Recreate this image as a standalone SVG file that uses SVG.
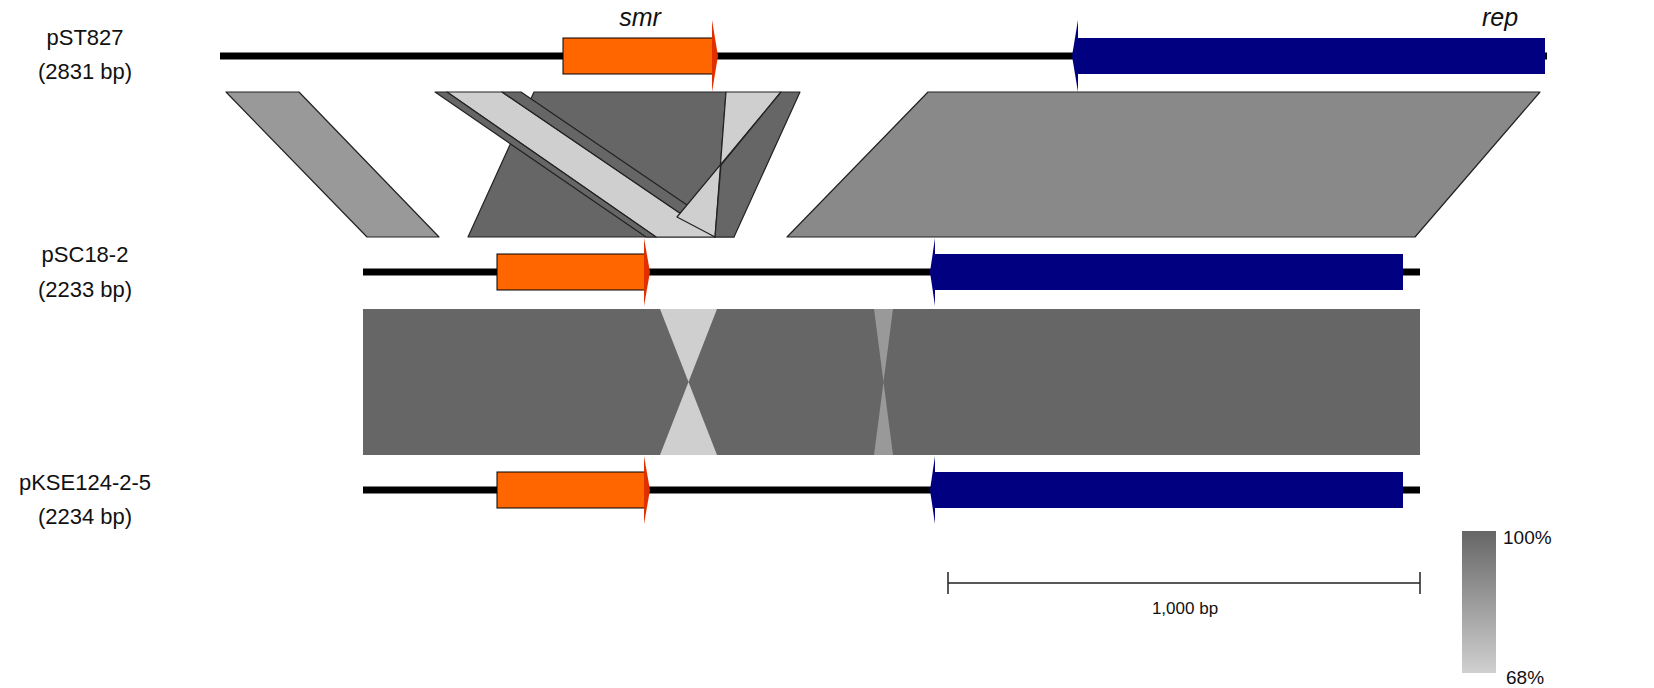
<svg xmlns="http://www.w3.org/2000/svg" width="1654" height="688" viewBox="0 0 1654 688">
<style>
text{font-family:"Liberation Sans",Arial,sans-serif;fill:#111}
.lab{font-size:22px;text-anchor:middle}
.gl{font-size:25px;font-style:italic;text-anchor:middle}
.bb{stroke:#000;stroke-width:7}
.b{stroke:#222;stroke-width:1.2;stroke-linejoin:round}
.dk{fill:#666}.lt{fill:#cfcfcf}.md{fill:#999}.mg{fill:#898989}
.smr{fill:#ff6600}.rep{fill:#000080}
</style>
<defs><linearGradient id="g" x1="0" y1="0" x2="0" y2="1"><stop offset="0" stop-color="#666"/><stop offset="1" stop-color="#d0d0d0"/></linearGradient></defs>
<rect width="1654" height="688" fill="#fff"/>
<g id="connectors">
<polygon class="md b" points="226,92 299,92 439,237 367,237"/>
<polygon class="dk b" points="534,92 726,92 715,237 468,237"/>
<polygon class="lt b" points="447,92 502,92 715,237 656,237"/>
<polygon class="dk b" points="435,92 447,92 656,237 646,237"/>
<polygon class="dk b" points="502,92 521,92 734,237 715,237"/>
<polygon class="lt b" points="726,92 781,92 677,217 715,237"/>
<polygon class="dk b" points="781,92 800,92 734,237 715,237 721,165"/>
<polygon class="mg b" points="928,92 1540,92 1415,237 787,237"/>
<rect class="dk" x="363" y="309" width="1057" height="146"/>
<polygon class="lt" points="660,309 717,309 660,455 717,455"/>
<polygon class="md" points="874,309 893,309 874,455 893,455"/>
</g>
<g id="pST827">
<line class="bb" x1="220" y1="56" x2="1547" y2="56"/>
<rect class="smr" x="563" y="38" width="150" height="36" stroke="#000" stroke-width="1"/>
<polygon fill="#e03000" points="712,20 718,56 712,92"/>
<rect class="rep" x="1078" y="38" width="467" height="36"/>
<polygon fill="#000080" points="1078,20 1072,56 1078,92"/>
<text class="lab" x="85" y="45">pST827</text>
<text class="lab" x="85" y="79">(2831 bp)</text>
<text class="gl" x="640" y="26">smr</text>
<text class="gl" x="1500" y="26">rep</text>
</g>
<g id="pSC18-2">
<line class="bb" x1="363" y1="272" x2="1420" y2="272"/>
<rect class="smr" x="497" y="254" width="148" height="36" stroke="#000" stroke-width="1"/>
<polygon fill="#e03000" points="644,238 650,272 644,306"/>
<rect class="rep" x="935" y="254" width="468" height="36"/>
<polygon fill="#000080" points="935,238 930,272 935,306"/>
<text class="lab" x="85" y="262">pSC18-2</text>
<text class="lab" x="85" y="297">(2233 bp)</text>
</g>
<g id="pKSE124-2-5">
<line class="bb" x1="363" y1="490" x2="1420" y2="490"/>
<rect class="smr" x="497" y="472" width="148" height="36" stroke="#000" stroke-width="1"/>
<polygon fill="#e03000" points="644,456 650,490 644,524"/>
<rect class="rep" x="935" y="472" width="468" height="36"/>
<polygon fill="#000080" points="935,456 930,490 935,524"/>
<text class="lab" x="85" y="490">pKSE124-2-5</text>
<text class="lab" x="85" y="524">(2234 bp)</text>
</g>
<g id="scale">
<path d="M948,583H1420M948,572V594M1420,572V594" stroke="#222" stroke-width="1.5" fill="none"/>
<text x="1185" y="614" font-size="17" text-anchor="middle">1,000 bp</text>
</g>
<g id="legend">
<rect x="1462" y="531" width="34" height="142" fill="url(#g)"/>
<text x="1503" y="544" font-size="19">100%</text>
<text x="1506" y="684" font-size="19">68%</text>
</g>
</svg>
